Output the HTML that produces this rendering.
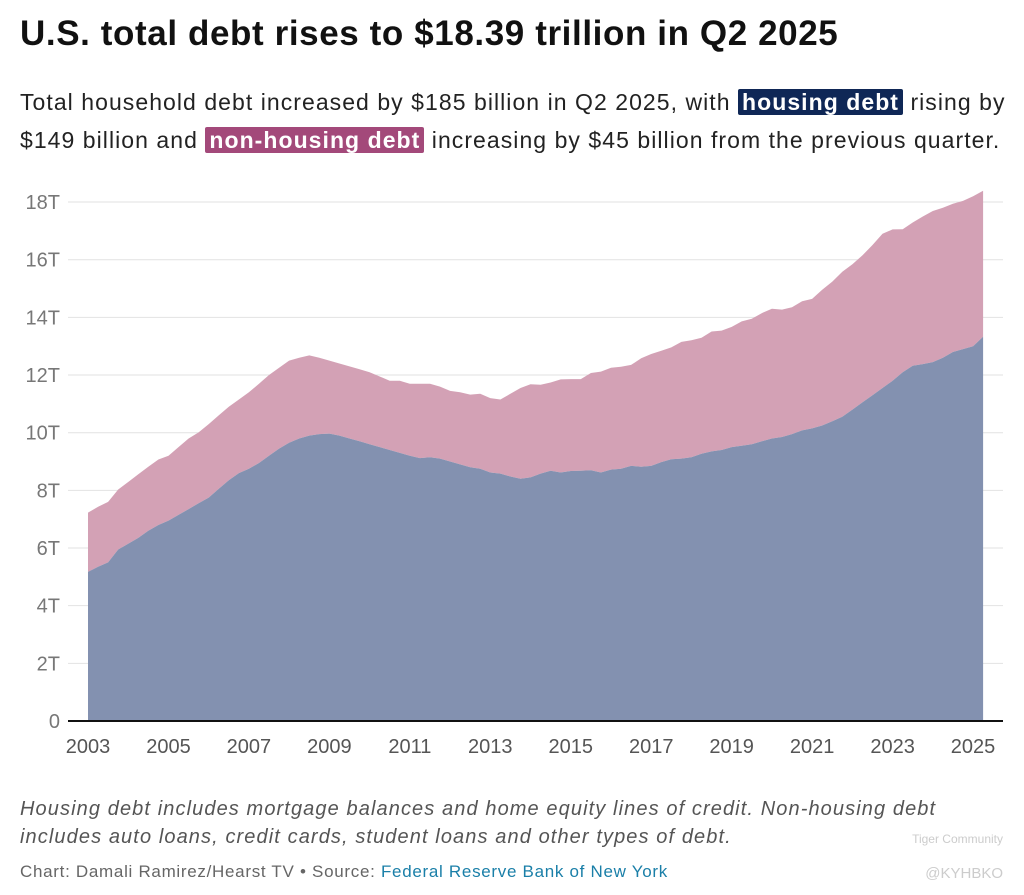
<!DOCTYPE html>
<html><head><meta charset="utf-8">
<style>
body{margin:0;width:1024px;height:895px;background:#fff;font-family:"Liberation Sans",sans-serif;position:relative;overflow:hidden}
#title{position:absolute;left:20px;top:14px;font-size:35px;font-weight:bold;color:#111;margin:0;letter-spacing:0.6px;white-space:nowrap}
#sub{position:absolute;left:20px;top:83px;width:1000px;font-size:23px;line-height:38px;color:#222;letter-spacing:1.05px;white-space:nowrap}
.hl{color:#fff;font-weight:bold;padding:0 4px;border-radius:2px}
#note{position:absolute;left:20px;top:795px;font-size:20px;line-height:28px;font-style:italic;color:#555;letter-spacing:1.1px;white-space:nowrap}
#credit{position:absolute;left:20px;top:862px;font-size:17px;color:#666;letter-spacing:0.7px;white-space:nowrap}
#credit a{color:#1a7fa8;text-decoration:none}
svg{position:absolute;left:0;top:0}
</style></head><body>
<h1 id="title">U.S. total debt rises to $18.39 trillion in Q2 2025</h1>
<div id="sub">Total household debt increased by $185 billion in Q2 2025, with <span class="hl" style="background:#0f2756">housing debt</span> rising by<br>$149 billion and <span class="hl" style="background:#a3497a">non-housing debt</span> increasing by $45 billion from the previous quarter.</div>
<svg id="chart" width="1024" height="895"></svg>
<div id="note">Housing debt includes mortgage balances and home equity lines of credit. Non-housing debt<br>includes auto loans, credit cards, student loans and other types of debt.</div>
<div id="credit">Chart: Damali Ramirez/Hearst TV • Source: <a>Federal Reserve Bank of New York</a></div>
<script>
const startYear = 2003;
const totalDebt = [7.23,7.43,7.6,8.03, 8.29,8.56,8.82,9.07, 9.2,9.5,9.8,10.01, 10.3,10.6,10.9,11.15, 11.4,11.7,12.0,12.25, 12.5,12.6,12.68,12.6, 12.5,12.4,12.3,12.2, 12.1,11.95,11.8,11.8, 11.7,11.7,11.7,11.6, 11.45,11.4,11.32,11.35, 11.2,11.15,11.35,11.55, 11.68,11.66,11.74,11.85, 11.86,11.86,12.07,12.12, 12.25,12.29,12.35,12.58, 12.73,12.84,12.96,13.15, 13.21,13.29,13.51,13.54, 13.67,13.86,13.95,14.15, 14.3,14.27,14.35,14.56, 14.64,14.96,15.24,15.58, 15.84,16.15,16.51,16.9, 17.05,17.06,17.29,17.5, 17.69,17.8,17.94,18.04, 18.2,18.39];
const housingDebt = [5.17,5.35,5.5,5.95, 6.15,6.35,6.6,6.8, 6.95,7.15,7.35,7.55, 7.75,8.05,8.35,8.6, 8.75,8.95,9.2,9.45, 9.65,9.8,9.9,9.95, 9.97,9.9,9.8,9.7, 9.6,9.5,9.4,9.3, 9.2,9.12,9.15,9.1, 9.0,8.9,8.8,8.75, 8.62,8.58,8.48,8.4, 8.45,8.58,8.68,8.62, 8.67,8.68,8.7,8.62, 8.72,8.75,8.85,8.82, 8.85,8.98,9.08,9.1, 9.15,9.27,9.35,9.4, 9.5,9.55,9.6,9.7, 9.8,9.85,9.95,10.08, 10.15,10.25,10.4,10.55, 10.8,11.05,11.3,11.55, 11.8,12.1,12.32,12.38, 12.45,12.6,12.8,12.9, 13.0,13.33];
const yTicks = [0,2,4,6,8,10,12,14,16,18];
const xTicks = [2003,2005,2007,2009,2011,2013,2015,2017,2019,2021,2023,2025];
const NS='http://www.w3.org/2000/svg';
const svg=document.getElementById('chart');
const xs=y=>88+(y-2003)*40.23;
const ys=v=>721-v*28.83;
function el(t,a){const e=document.createElementNS(NS,t);for(const k in a)e.setAttribute(k,a[k]);svg.appendChild(e);return e;}
yTicks.forEach(v=>{
  if(v>0){const g=el('line',{x1:68,x2:1003,y1:ys(v),y2:ys(v),stroke:'#e2e2e2','stroke-width':1});
  
  }
  const t=el('text',{x:60,y:ys(v)+7,'text-anchor':'end','font-size':20,fill:'#777','font-family':'Liberation Sans, sans-serif'});
  t.textContent=v===0?'0':v+'T';
  
  
});
function areaPath(top,bot){
  let d='';
  top.forEach((v,i)=>{d+=(i?'L':'M')+xs(startYear+i/4).toFixed(1)+','+ys(v).toFixed(1);});
  for(let i=bot.length-1;i>=0;i--)d+='L'+xs(startYear+i/4).toFixed(1)+','+ys(bot[i]).toFixed(1);
  return d+'Z';
}
const zeros=housingDebt.map(()=>0);
const a1=el('path',{d:areaPath(totalDebt,housingDebt),fill:'#d3a1b5'});


const a2=el('path',{d:areaPath(housingDebt,zeros),fill:'#8391b0'});


const ax=el('line',{x1:68,x2:1003,y1:721,y2:721,stroke:'#111','stroke-width':2});


xTicks.forEach(y=>{
  const t=el('text',{x:xs(y),y:753,'text-anchor':'middle','font-size':20,fill:'#555','font-family':'Liberation Sans, sans-serif'});
  t.textContent=y;
  
  
});
const w=el('text',{x:1003,y:878,'text-anchor':'end','font-size':15,fill:'#ccc','font-family':'Liberation Sans, sans-serif'});
w.textContent='@KYHBKO';


const w2=el('text',{x:1003,y:843,'text-anchor':'end','font-size':12,fill:'#ccc','font-family':'Liberation Sans, sans-serif'});
w2.textContent='Tiger Community';


</script>
</body></html>
